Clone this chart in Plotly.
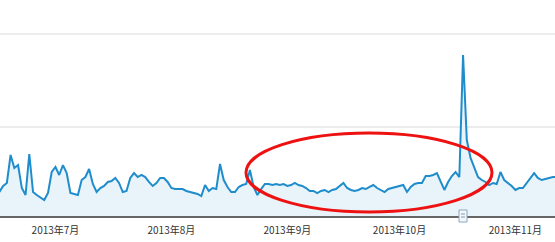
import pandas as pd
import plotly.graph_objects as go

# daily values, starting 2013-06-16
start_date = "2013-06-16"
values = [
    301, 366, 398, 699, 559, 591, 344, 269, 710, 301, 269, 237, 215, 290, 516,
    570, 484, 591, 505, 290, 280, 269, 430, 462, 548,
    387, 301, 344, 366, 409, 419, 452, 398, 301, 312,
    452, 505, 462, 484, 462, 409, 366, 398, 452, 452,
    409, 344, 333, 333, 333, 312, 301, 290, 280, 258,
    376, 312, 344, 333, 602, 430, 355, 301, 301, 355,
    376, 387, 538, 355, 269, 333, 387, 387, 376, 387,
    376, 387, 366, 376, 398, 376, 366, 344, 312, 312,
    290, 312, 323, 301, 323, 333, 366, 398, 344, 323,
    312, 323, 344, 333, 355, 376, 344, 323, 301, 333,
    344, 355, 366, 376, 301, 355, 387, 398, 398, 473,
    473, 484, 505, 409, 323, 409, 473, 516, 462, 1774,
    860, 667, 570, 462, 430, 409, 376, 398, 387, 516,
    430, 398, 366, 323, 344, 344, 398, 441, 505, 452,
    430, 441, 452, 462, 462,
]
dates = pd.date_range(start_date, periods=len(values), freq="D")

tick_dates = ["2013-07-01", "2013-08-01", "2013-09-01", "2013-10-01", "2013-11-01"]
tick_labels = ["2013年7月", "2013年8月", "2013年9月", "2013年10月", "2013年11月"]
grid_values = [1000, 2000]

fig = go.Figure()
fig.add_trace(go.Scatter(
    x=dates, y=values, mode="lines",
    line=dict(color="#1f8dcb", width=2),
    fill="tozeroy", fillcolor="#e8f3fa",
    hoverinfo="skip",
))

# red highlight ellipse (annotation)
fig.add_shape(type="circle", xref="paper", yref="paper",
              x0=246/555, x1=492/555, y0=1-212/216, y1=1-133/216,
              line=dict(color="#ee1111", width=3), fillcolor="rgba(0,0,0,0)")
# small annotation marker on axis
fig.add_shape(type="rect", xref="paper", yref="paper",
              x0=459/555, x1=467/555, y0=1-222/216, y1=1-210/216,
              line=dict(color="#8aa6bd", width=1), fillcolor="#f4f8fb")
for yy in (214, 217):
    fig.add_shape(type="line", xref="paper", yref="paper",
                  x0=461/555, x1=465/555, y0=1-yy/216, y1=1-yy/216,
                  line=dict(color="#7f98ad", width=1))

fig.update_layout(
    width=555, height=242,
    margin=dict(l=0, r=0, t=0, b=26),
    paper_bgcolor="white", plot_bgcolor="white",
    showlegend=False,
    font=dict(family="Liberation Sans Narrow, Noto Sans CJK SC, sans-serif", size=10, color="#333"),
    xaxis=dict(
        range=["2013-06-16 04:00", "2013-11-11 14:00"],
        tickvals=tick_dates, ticktext=tick_labels,
        showgrid=False, zeroline=False,
        showline=True, linecolor="#666", linewidth=2,
        ticks="", ticklabelstandoff=4,
    ),
    yaxis=dict(
        range=[43, 2366],
        tickvals=grid_values, showticklabels=False,
        showgrid=True, gridcolor="#ececec", gridwidth=1.5,
        zeroline=False, showline=False,
    ),
)

fig.write_html("out.html")
